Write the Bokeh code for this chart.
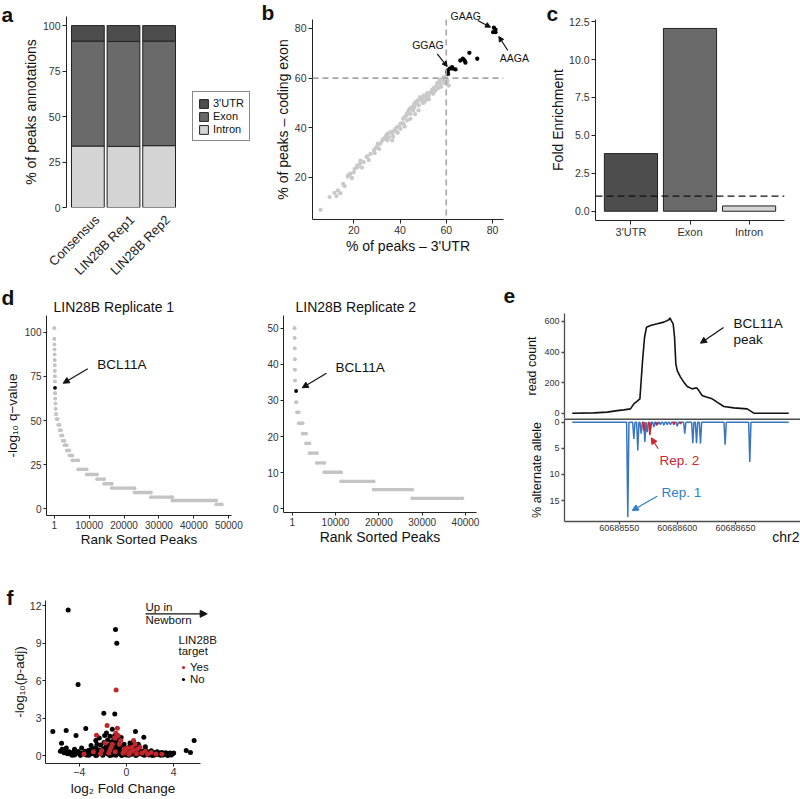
from bokeh.plotting import figure
from bokeh.layouts import row, column
from bokeh.models import (Range1d, FactorRange, FixedTicker, Label, Arrow, NormalHead,
                          Span, Legend, LegendItem, ColumnDataSource, NumeralTickFormatter,
                          BasicTickFormatter)
from bokeh.embed import file_html
from bokeh.resources import INLINE

FONT = "Liberation Sans"
NAN = float("nan")

# ---------------- data: panel a ----------------
a_samples = ["Consensus", "LIN28B Rep1", "LIN28B Rep2"]
a_intron = [33.8, 33.6, 34.0]
a_exon = [57.7, 57.7, 57.5]
a_utr = [8.5, 8.7, 8.5]

# ---------------- data: panel b ----------------
b_gray_x = [5.6, 9.5, 11.6, 13.1, 14.2, 15.4, 17.4, 17.8, 18.6, 20.0, 20.4, 21.4, 21.7, 22.6, 22.9,
            24.3, 25.5, 25.8, 27.2, 28.7, 29.4, 30.1, 30.4, 31.5, 32.3, 33.0, 33.7, 34.1, 34.7, 35.1,
            35.9, 36.6, 37.3, 38.0, 38.7, 39.5, 40.2, 40.9, 41.3, 41.9, 42.8, 43.1, 43.8, 44.2, 44.5,
            45.2, 45.7, 46.0, 46.2, 46.7, 47.4, 47.7, 48.1, 48.6, 49.1, 49.6, 50.0, 50.3, 51.0, 51.4,
            51.7, 52.4, 53.2, 53.9, 54.3, 54.6, 55.3, 55.8, 56.1, 56.8, 57.2, 57.5, 58.2, 58.6, 58.9,
            59.7, 60.4, 61.1, 36.6, 38.7, 40.2, 41.6, 43.1, 44.5, 12.5, 16.0, 19.2, 23.5, 26.5, 29.0,
            31.0, 34.5, 37.0, 39.0, 42.0, 46.5, 48.0, 50.5, 52.5, 54.5, 56.5, 57.8, 59.2, 60.5]
b_gray_y = [7.0, 12.1, 13.8, 14.8, 13.7, 17.4, 20.4, 21.0, 21.5, 22.1, 23.5, 24.8, 24.2, 25.5, 26.8,
            26.2, 28.2, 28.5, 29.5, 30.9, 31.8, 32.5, 33.6, 33.6, 34.9, 35.6, 36.2, 37.0, 37.6, 36.2,
            38.3, 37.6, 38.7, 39.6, 40.3, 40.5, 41.6, 41.9, 43.6, 44.3, 45.0, 45.9, 47.0, 47.7, 45.6,
            48.3, 47.0, 49.4, 48.3, 50.3, 49.7, 51.0, 49.0, 52.3, 51.0, 51.7, 49.9, 53.0, 51.0, 52.3,
            54.0, 53.0, 54.4, 55.3, 53.7, 56.1, 55.0, 57.0, 58.0, 58.4, 59.3, 57.7, 59.7, 59.1, 60.4,
            60.7, 58.4, 57.0, 34.9, 38.3, 39.6, 41.6, 43.0, 43.6, 12.5, 16.5, 19.8, 24.0, 27.0, 29.8,
            31.5, 35.0, 36.5, 38.0, 40.5, 45.5, 47.0, 50.5, 51.5, 54.0, 56.0, 56.5, 58.0, 59.0]
b_black_x = [60.4, 60.7, 60.8, 61.5, 62.5, 62.9, 64.0, 66.1, 67.2, 67.9, 68.3, 70.0, 73.4, 80.6, 81.3, 80.3, 81.3]
b_black_y = [62.4, 63.1, 61.7, 63.8, 64.4, 63.8, 63.5, 67.1, 67.8, 67.1, 66.2, 70.2, 67.8, 80.3, 79.5, 78.5, 78.5]
b_cut = 60

# ---------------- data: panel c ----------------
c_regions = ["3'UTR", "Exon", "Intron"]
c_fold = [3.8, 12.05, 0.35]
c_baseline = 1

# ---------------- data: panel d ----------------
d1_val = [102.3, 96.2, 93.0, 90.2, 87.4, 84.3, 81.3, 78.1, 75.1, 72.1, 65.5, 62.5, 59.6, 56.6, 53.6,
          50.8, 47.5, 44.5, 41.5, 38.5, 36.0, 33.0, 30.2, 27.4, 22.3, 19.4, 16.8, 14.2, 11.7, 9.2,
          6.6, 4.7, 2.5]
d1_start = [30, 50, 70, 90, 110, 130, 150, 170, 190, 210, 260, 300, 350, 420, 520,
            650, 1150, 1550, 1950, 2400, 2950, 3600, 4350, 5200, 6900, 9300, 12300, 14300, 16500, 23000,
            27700, 33800, 46400]
d1_end = [30, 50, 70, 90, 110, 130, 150, 170, 190, 210, 260, 300, 350, 420, 520,
          1000, 1550, 1950, 2400, 2950, 3600, 4350, 5200, 6900, 9300, 12300, 14300, 16500, 23000, 27700,
          33800, 46400, 48000]
d1_bcl_rank = 230
d1_bcl_val = 68.5

d2_val = [50.0, 47.3, 44.4, 41.4, 38.5, 35.5, 29.5, 26.7, 23.7, 20.8, 18.1, 15.4, 12.7, 10.1, 7.6, 5.3, 2.9]
d2_start = [550, 570, 590, 610, 630, 650, 850, 1100, 1500, 2400, 3200, 4000, 5700, 7400, 11300, 18800, 27700]
d2_end = [550, 570, 590, 610, 630, 650, 1000, 1500, 2400, 3200, 4000, 5700, 7400, 11300, 18800, 27700, 39300]
d2_bcl_rank = 900
d2_bcl_val = 32.6

# ---------------- data: panel e ----------------
e_pos = [60688509.6, 60688528.2, 60688539.7, 60688548.3, 60688554.0, 60688559.7, 60688562.6, 60688565.5,
         60688567.8, 60688568.9, 60688570.1, 60688571.8, 60688573.5, 60688576.9, 60688582.7, 60688588.4,
         60688592.7, 60688593.6, 60688594.7, 60688596.4, 60688597.6, 60688598.7, 60688599.9, 60688602.7,
         60688605.6, 60688608.5, 60688612.8, 60688616.5, 60688618.5, 60688621.3, 60688625.6, 60688629.9,
         60688634.2, 60688640.0, 60688648.6, 60688660.0, 60688665.8, 60688695.8]
e_count = [0, 2, 7, 17, 22, 28, 61, 79, 94, 214, 345, 497, 563, 574, 585, 596,
           611, 624, 607, 585, 497, 323, 279, 236, 203, 175, 159, 166, 148, 116, 105, 94,
           72, 44, 35, 28, 0, 0]
e_rep1_pos = [60688557.4, 60688562.6, 60688566.0, 60688568.9, 60688572.1, 60688574.1, 60688576.9,
              60688579.8, 60688582.7, 60688585.5, 60688588.4, 60688591.3, 60688594.1, 60688599.9,
              60688606.4, 60688613.3, 60688616.5, 60688619.9, 60688641.1, 60688662.3]
e_rep1_pct = [18.15, 3.2, 5.4, 2.2, 3.8, 1.9, 1.3, 0.95, 0.6, 0.5, 0.6, 0.45, 0.5, 0.8,
              2.2, 4.0, 4.0, 4.1, 4.3, 7.6]
e_rep2_pos = [60688571.2, 60688576.4, 60688582.1, 60688597.0, 60688602.7]
e_rep2_pct = [1.6, 2.5, 0.6, 0.45, 0.3]
e_start = 60688509.6
e_end = 60688695.8

# ---------------- data: panel f ----------------
f_no_x = [-4.94, -0.93, -0.82, -4.10, -1.92, -0.99, -6.24, -5.11, -4.27, -3.45, -5.50, -5.45, 5.73, 5.06, 5.42,
          1.47, 0.76,
          -5.6, -5.3, -5.2, -5.0, -4.85, -4.7, -4.55, -4.4, -4.25, -4.1, -3.95, -3.8, -3.65, -3.5, -3.4,
          -3.3, -3.2, -3.1, -3.0, -2.9, -2.8, -2.7, -2.6, -2.5, -2.4, -2.3, -2.2, -2.1, -2.0, -1.95,
          -1.9, -1.8, -1.75, -1.7, -1.6, -1.55, -1.5, -1.45, -1.4, -1.35, -1.3, -1.25, -1.2, -1.15, -1.1,
          -1.05, -1.0, -0.95, -0.9, -0.85, -0.8, -0.75, -0.7, -0.65, -0.6, -0.55, -0.5, -0.45, -0.4, -0.35,
          -0.3, -0.25, -0.2, -0.15, -0.1, -0.05, 0.0, 0.05, 0.1, 0.15, 0.2, 0.25, 0.3, 0.35, 0.4,
          0.45, 0.5, 0.55, 0.6, 0.65, 0.7, 0.75, 0.8, 0.85, 0.9, 0.95, 1.0, 1.1, 1.2, 1.3,
          1.4, 1.5, 1.6, 1.7, 1.8, 1.9, 2.0, 2.1, 2.2, 2.3, 2.4, 2.5, 2.6, 2.7, 2.8,
          2.9, 3.0, 3.1, 3.2, 3.3, 3.4, 3.5, 3.6, 3.7, 3.8, 3.9, 4.0,
          -4.6, -3.9, -3.2, -2.6, -2.0, -1.4, -0.9, -0.4, 0.2, 0.8, 1.5, 2.2, 2.9, 3.5,
          -1.7, -1.2, -2.6, -3.0, -2.3, -1.0, -0.6, -0.2, 0.3, 1.0, 1.6, -3.8, -4.4, -5.1, -2.5,
          -1.85, -0.45]
f_no_y = [11.65, 10.08, 8.99, 5.68, 3.39, 3.33, 1.92, 2.00, 1.60, 2.16, 0.99, 0.51, 1.20, 0.40, 0.24,
          1.47, 1.92,
          0.35, 0.22, 0.45, 0.15, 0.3, 0.1, 0.25, 0.05, 0.18, 0.32, 0.08, 0.2, 0.12, 0.35, 0.05,
          0.22, 0.42, 0.1, 0.28, 0.55, 0.15, 0.35, 0.62, 0.05, 0.25, 0.45, 0.85, 0.12, 0.3, 0.55,
          1.05, 0.2, 0.7, 0.4, 1.25, 0.1, 0.5, 0.85, 1.55, 0.3, 0.65, 1.1, 0.05, 0.4, 0.95,
          1.35, 0.2, 0.6, 1.05, 0.35, 0.75, 0.15, 0.5, 0.9, 0.25, 0.6, 0.1, 0.4, 0.7, 0.2,
          0.45, 0.08, 0.3, 0.55, 0.15, 0.35, 0.05, 0.25, 0.5, 0.12, 0.35, 0.7, 0.2, 0.45, 0.9,
          0.1, 0.3, 0.6, 1.1, 0.25, 0.5, 0.8, 0.15, 0.4, 0.65, 0.1, 0.3, 0.55, 0.15, 0.35,
          0.08, 0.25, 0.45, 0.12, 0.3, 0.05, 0.2, 0.38, 0.1, 0.25, 0.05, 0.18, 0.3, 0.08, 0.2,
          0.12, 0.25, 0.05, 0.15, 0.22, 0.08, 0.18, 0.1, 0.2, 0.05, 0.15, 0.2,
          0.02, 0.0, 0.02, 0.0, 0.02, 0.0, 0.03, 0.0, 0.02, 0.0, 0.02, 0.0, 0.02, 0.0,
          1.8, 2.1, 1.2, 0.8, 1.4, 1.6, 1.3, 0.9, 1.0, 0.9, 0.7, 0.6, 0.5, 0.6, 0.9,
          1.6, 1.45]
f_yes_x = [-0.88, -2.54, -1.64, -0.77, -0.90, 0.60, 0.74, -0.49, 1.15, 2.50, -2.10, -1.30, 0.33, -0.20,
           0.47, -3.60, -1.80, -1.00, -0.60, -0.30, 0.20, 0.90, 1.30, 1.80, -1.50, -2.80, -0.95, 0.10,
           -1.20, 3.00, -0.70, 0.55, 0.85, -1.40, -2.20, 1.60, 2.10, -0.10]
f_yes_y = [5.25, 1.63, 2.40, 2.19, 1.79, 1.20, 0.93, 1.20, 0.67, 0.13, 0.40, 0.67, 0.27, 0.53,
           0.67, 0.13, 1.00, 1.40, 0.90, 0.20, 0.10, 0.50, 0.20, 0.10, 0.20, 0.30, 0.30, 0.60,
           0.90, 0.10, 1.60, 0.40, 0.15, 0.45, 0.15, 0.35, 0.25, 0.35]

# ---------------- helpers ----------------
def make_fig(w, h, left, right, top, bottom, xr, yr):
    p = figure(width=w, height=h, x_range=xr, y_range=yr, output_backend="svg",
               toolbar_location=None, title=None, frame_align=False,
               min_border_left=left, min_border_right=right,
               min_border_top=top, min_border_bottom=bottom)
    p.xgrid.visible = False
    p.ygrid.visible = False
    p.outline_line_color = None
    p.background_fill_color = "white"
    p.border_fill_color = "white"
    return p


def style_axes(p, tick_size="10.5px", title_size="14px", line_color="#222222",
               tick_out=4, label_standoff=3, title_standoff=4, line_width=1):
    for ax in p.axis:
        ax.axis_line_color = line_color
        ax.axis_line_width = line_width
        ax.major_tick_line_color = line_color
        ax.major_tick_line_width = line_width
        ax.minor_tick_line_color = None
        ax.major_tick_out = tick_out
        ax.major_tick_in = 0
        ax.major_label_standoff = label_standoff
        ax.major_label_text_font = FONT
        ax.major_label_text_font_size = tick_size
        ax.major_label_text_color = "#333333"
        ax.axis_label_text_font = FONT
        ax.axis_label_text_font_size = title_size
        ax.axis_label_text_font_style = "normal"
        ax.axis_label_text_color = "#111111"
        ax.axis_label_standoff = title_standoff

col_utr, col_exon, col_intron = "#4d4d4d", "#6a6a6a", "#d4d4d4"
blue = "#3a76c0"
red = "#cf2430"
red_f = "#c0272d"
gray_d = "#c4c4c4"

# ================= panel a =================
pa = make_fig(260, 274, 66, 80, 16, 67,
              FactorRange(*a_samples, range_padding=0.1, range_padding_units="absolute"),
              Range1d(0, 105))
src_a = ColumnDataSource(dict(cat=a_samples, intron=a_intron, exon=a_exon, utr=a_utr))
pa.vbar_stack(["intron", "exon", "utr"], x="cat", width=0.92, source=src_a,
              fill_color=[col_intron, col_exon, col_utr], line_color="#222222", line_width=1)
style_axes(pa, label_standoff=2, title_standoff=1)
pa.yaxis.ticker = FixedTicker(ticks=[0, 25, 50, 75, 100])
pa.yaxis.axis_label = "% of peaks annotations"
pa.xaxis.visible = False   # sample names are set below as 45-degree labels

# ================= panel b =================
pb = make_fig(270, 274, 52, 27, 19, 55, Range1d(2.13, 84.76), Range1d(3.09, 83.6))
pb.add_layout(Span(location=b_cut, dimension="height", line_color="#a6a6a6", line_width=1.6,
                   line_dash="6 4"))
pb.add_layout(Span(location=b_cut, dimension="width", line_color="#a6a6a6", line_width=1.6,
                   line_dash="6 4"))
pb.scatter(b_gray_x, b_gray_y, size=4.3, color="#c9c9c9", line_color=None)
pb.scatter(b_black_x, b_black_y, size=4.3, color="#000000", line_color=None)
style_axes(pb, label_standoff=2, title_standoff=1)
pb.xaxis.ticker = FixedTicker(ticks=[20, 40, 60, 80])
pb.yaxis.ticker = FixedTicker(ticks=[20, 40, 60, 80])
pb.xaxis.axis_label = "% of peaks \u2013 3'UTR"
pb.yaxis.axis_label = "% of peaks \u2013 coding exon"

# ================= panel c =================
pc = make_fig(270, 274, 65, 16, 19, 54,
              FactorRange(*c_regions, range_padding=0.1, range_padding_units="absolute"),
              Range1d(-0.61, 12.64))
pc.vbar(x=c_regions, top=c_fold, width=0.9,
        fill_color=[col_utr, col_exon, col_intron], line_color="#222222", line_width=1)
pc.add_layout(Span(location=c_baseline, dimension="width", line_color="#111111", line_width=1.1,
                   line_dash="7 4"))
style_axes(pc, label_standoff=2, title_standoff=0)
pc.yaxis.ticker = FixedTicker(ticks=[0, 2.5, 5, 7.5, 10, 12.5])
pc.yaxis.formatter = NumeralTickFormatter(format="0.0")
pc.yaxis.axis_label = "Fold Enrichment"
pc.xaxis.major_label_text_font_size = "11px"
pc.xaxis.major_label_standoff = 1

# ================= panel d =================
pd1 = make_fig(255, 284, 46, 24, 41, 43, Range1d(-2204, 50773), Range1d(-3.79, 109.46))
src_d1 = ColumnDataSource(dict(s=d1_start, e=d1_end, v=d1_val))
pd1.segment(x0="s", y0="v", x1="e", y1="v", source=src_d1, line_width=3.4, line_cap="round",
            color=gray_d)
pd1.scatter(x="s", y="v", source=src_d1, size=3.6, color=gray_d, line_color=None)
pd1.scatter(x="e", y="v", source=src_d1, size=3.6, color=gray_d, line_color=None)
pd1.scatter([d1_bcl_rank], [d1_bcl_val], size=3.8, color="#000000", line_color=None)
style_axes(pd1, tick_size="10px", title_size="13.5px", tick_out=3, label_standoff=2, title_standoff=2)
pd1.xaxis.axis_label_standoff = 0
pd1.xaxis.ticker = FixedTicker(ticks=[1, 10000, 20000, 30000, 40000, 50000])
pd1.yaxis.ticker = FixedTicker(ticks=[0, 25, 50, 75, 100])
pd1.xaxis.axis_label = "Rank Sorted Peaks"
pd1.yaxis.axis_label = "-log\u2081\u2080 q\u2212value"

pd2 = make_fig(265, 284, 28, 44, 41, 46, Range1d(-2007, 42539), Range1d(-1.02, 53.5))
src_d2 = ColumnDataSource(dict(s=d2_start, e=d2_end, v=d2_val))
pd2.segment(x0="s", y0="v", x1="e", y1="v", source=src_d2, line_width=3.4, line_cap="round",
            color=gray_d)
pd2.scatter(x="s", y="v", source=src_d2, size=3.6, color=gray_d, line_color=None)
pd2.scatter(x="e", y="v", source=src_d2, size=3.6, color=gray_d, line_color=None)
pd2.scatter([d2_bcl_rank], [d2_bcl_val], size=3.8, color="#000000", line_color=None)
style_axes(pd2, tick_size="10px", title_size="14px", tick_out=3, label_standoff=2, title_standoff=0)
pd2.xaxis.ticker = FixedTicker(ticks=[1, 10000, 20000, 30000, 40000])
pd2.yaxis.ticker = FixedTicker(ticks=[0, 10, 20, 30, 40, 50])
pd2.xaxis.axis_label = "Rank Sorted Peaks"

# ================= panel e =================
e_xr = Range1d(60688502.97, 60688705.9)
pe1 = make_fig(280, 144, 44, 0, 39, 0, e_xr, Range1d(-34.7, 652.3))
pe1.line(e_pos, e_count, line_color="#111111", line_width=1.6)
style_axes(pe1, tick_size="9px", title_size="12.5px", line_color="#4d4d4d", tick_out=3,
           label_standoff=2, title_standoff=2, line_width=1.3)
pe1.xaxis.visible = False
pe1.yaxis.ticker = FixedTicker(ticks=[0, 200, 400, 600])
pe1.yaxis.axis_label = "read count"

pe2 = make_fig(280, 140, 44, 0, 0, 37, e_xr, Range1d(19.02, -0.71))
r1x, r1y = [e_start], [0]
for pos_, pct_ in zip(e_rep1_pos, e_rep1_pct):
    r1x += [pos_ - 1, pos_, pos_ + 1]
    r1y += [0, pct_, 0]
r1x.append(e_end)
r1y.append(0)
pe2.line(r1x, r1y, line_color=blue, line_width=1.5)
pe2.multi_line([[p_ - 1, p_, p_ + 1] for p_ in e_rep2_pos],
               [[0, v_, 0] for v_ in e_rep2_pct], line_color=red, line_width=1.5)
pe2.add_layout(Span(location=-0.62, dimension="width", line_color="#4d4d4d", line_width=2))
style_axes(pe2, tick_size="9px", title_size="12.5px", line_color="#4d4d4d", tick_out=3,
           label_standoff=2, title_standoff=2, line_width=1.3)
pe2.xaxis.major_label_standoff = 0
pe2.yaxis.ticker = FixedTicker(ticks=[0, 5, 10, 15])
pe2.xaxis.ticker = FixedTicker(ticks=[60688550, 60688600, 60688650])
pe2.xaxis.formatter = BasicTickFormatter(use_scientific=False)
pe2.yaxis.axis_label = "% alternate allele"

# ================= panel f =================
pf = make_fig(270, 241, 45, 70, 42, 36, Range1d(-6.86, 6.27), Range1d(-0.64, 12.4))
pf.scatter(f_no_x, f_no_y, size=5, color="#000000", line_color=None)
pf.scatter(f_yes_x, f_yes_y, size=5, color=red_f, line_color=None)
style_axes(pf, tick_size="10.5px", title_size="13.5px", tick_out=3, label_standoff=1,
           title_standoff=0)
pf.xaxis.axis_label_standoff = 2
pf.xaxis.ticker = FixedTicker(ticks=[-4, 0, 4])
pf.yaxis.ticker = FixedTicker(ticks=[0, 3, 6, 9, 12])
pf.xaxis.axis_label = "log\u2082 Fold Change"
pf.yaxis.axis_label = "-log\u2081\u2080(p-adj)"

# ================= page overlay: letters, notes, legends =================
ov = figure(width=800, height=799, x_range=Range1d(0, 800), y_range=Range1d(799, 0),
            output_backend="svg", toolbar_location=None, title=None, frame_align=False,
            x_axis_location=None, y_axis_location=None,
            min_border_left=0, min_border_right=0, min_border_top=0, min_border_bottom=0)
ov.xgrid.visible = False
ov.ygrid.visible = False
ov.outline_line_color = None
ov.background_fill_alpha = 0
ov.border_fill_alpha = 0

DY = -5  # baseline correction for label placement


def lab(x, y, text, size, color="#111111", align="left", style="normal", angle=0.0):
    ov.add_layout(Label(x=x, y=y + DY, text=text, text_font=FONT, text_font_size=size,
                        text_color=color, text_align=align, text_baseline="alphabetic",
                        text_font_style=style, angle=angle))


def arr(x0, y0, x1, y1, color="#111111", head=6):
    ov.add_layout(Arrow(x_start=x0, y_start=y0, x_end=x1, y_end=y1,
                        line_color=color, line_width=1.2,
                        end=NormalHead(size=head, fill_color=color, line_color=color, line_width=1)))

LETTER = "21px"
lab(1, 19, "a", LETTER, style="bold")
lab(261, 17, "b", LETTER, style="bold")
lab(546, 18, "c", LETTER, style="bold")
lab(1, 301.7, "d", LETTER, style="bold")
lab(503, 300, "e", LETTER, style="bold")
lab(6, 601.7, "f", LETTER, style="bold")

# panel a sample names, 45 degrees, ending under each bar
for name_, xa_ in zip(a_samples, [96.6, 131.6, 167.2]):
    lab(xa_, 222, name_, "13px", color="#222222", align="right", angle=0.785)

lab(450, 20.7, "GAAG", "10.5px")
lab(499.3, 62.7, "AAGA", "10.5px")
lab(411.7, 49.3, "GGAG", "10.5px")
arr(477.3, 20, 490, 26.7, head=5)
arr(507.3, 50, 498.3, 36, head=5)
arr(436.7, 53.3, 446.7, 66, head=5)

lab(53, 311, "LIN28B Replicate 1", "14px")
lab(96.7, 369.3, "BCL11A", "13.5px")
arr(87.3, 368.3, 62.7, 382.7)
lab(295, 311, "LIN28B Replicate 2", "14px")
lab(335, 372, "BCL11A", "13.5px")
arr(326, 372.7, 301.7, 387.3)

lab(733, 328, "BCL11A", "13.5px")
lab(733, 344, "peak", "13.5px")
arr(723, 327, 700, 342.7)
lab(659, 465, "Rep. 2", "13.5px", color=red)
arr(657.7, 448.3, 650.7, 437.3, color=red)
lab(661, 497.3, "Rep. 1", "13.5px", color="#2f7fc8")
arr(656.7, 495.7, 631.7, 510, color="#2f7fc8")
lab(799, 541.7, "chr2", "14px", align="right")

lab(145, 611, "Up in", "11.5px")
lab(145, 624, "Newborn", "11.5px")
arr(145, 613.3, 206.7, 613.3, head=7)
lab(178, 644, "LIN28B", "11.5px")
lab(178, 655, "target", "11.5px")

# legend keys: renderers holding one undrawn (NaN) point carry the key styles
k_utr = ov.vbar(x=[NAN], top=[NAN], width=1, fill_color=col_utr, line_color="#222222")
k_exon = ov.vbar(x=[NAN], top=[NAN], width=1, fill_color=col_exon, line_color="#222222")
k_intron = ov.vbar(x=[NAN], top=[NAN], width=1, fill_color=col_intron, line_color="#222222")
leg_a = Legend(items=[LegendItem(label="3'UTR", renderers=[k_utr]),
                      LegendItem(label="Exon", renderers=[k_exon]),
                      LegendItem(label="Intron", renderers=[k_intron])],
               location=(192, 658), border_line_color="#111111", border_line_width=1,
               label_text_font=FONT, label_text_font_size="11px", label_text_color="#111111",
               glyph_width=11, glyph_height=11,
               label_height=11, spacing=1, padding=5, margin=0, label_standoff=4)
ov.add_layout(leg_a)
k_yes = ov.scatter(x=[NAN], y=[NAN], size=5, color=red_f, line_color=None)
k_no = ov.scatter(x=[NAN], y=[NAN], size=5, color="#000000", line_color=None)
leg_f = Legend(items=[LegendItem(label="Yes", renderers=[k_yes]),
                      LegendItem(label="No", renderers=[k_no])],
               location=(179, 114), border_line_color=None, background_fill_alpha=0,
               label_text_font=FONT, label_text_font_size="11.5px", label_text_color="#111111",
               glyph_width=8, glyph_height=12, label_height=12, spacing=0, padding=0, margin=0,
               label_standoff=3)
ov.add_layout(leg_f)
ov.margin = (-799, 0, 0, 0)

main = column(row(pa, pb, pc), row(pd1, pd2, column(pe1, pe2)), row(pf))
layout = column(main, ov)
open("out.html", "w").write(file_html(layout, INLINE))
